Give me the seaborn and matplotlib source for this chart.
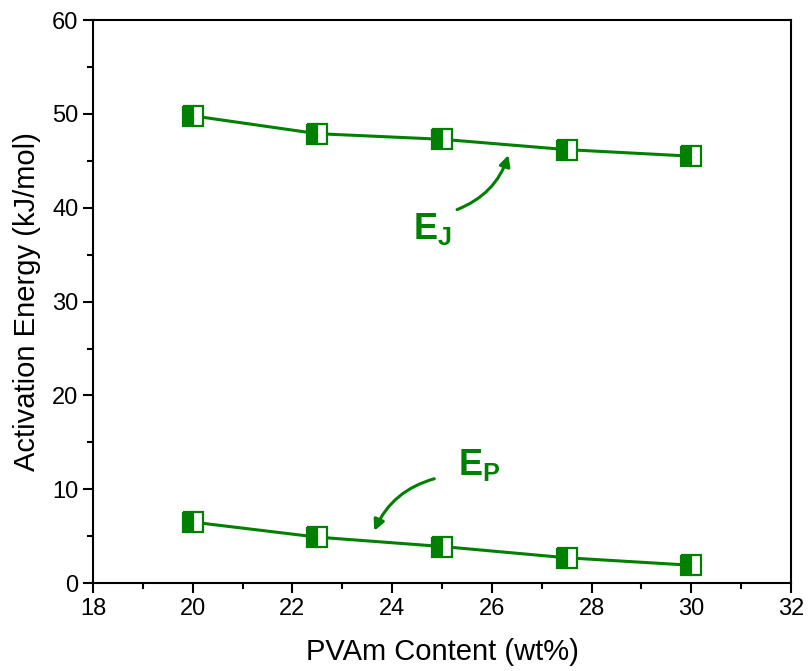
import matplotlib
matplotlib.use('Agg')
import matplotlib.pyplot as plt
from matplotlib.ticker import MultipleLocator
import seaborn as sns
import pandas as pd

# data
pvam = [20, 22.5, 25, 27.5, 30]
e_j = [49.8, 47.9, 47.3, 46.2, 45.5]
e_p = [6.5, 4.9, 3.9, 2.7, 1.9]

green = '#008000'

sns.set_style('ticks')
plt.rcParams['font.family'] = ['Liberation Sans', 'DejaVu Sans']
plt.rcParams['mathtext.fontset'] = 'custom'
plt.rcParams['mathtext.rm'] = 'Liberation Sans'
plt.rcParams['mathtext.bf'] = 'Liberation Sans:bold'
plt.rcParams['text.color'] = 'black'
plt.rcParams['axes.labelcolor'] = 'black'
plt.rcParams['xtick.color'] = 'black'
plt.rcParams['ytick.color'] = 'black'
plt.rcParams['axes.edgecolor'] = 'black'

df = pd.DataFrame({'x': pvam, 'EJ': e_j, 'EP': e_p})

fig = plt.figure(figsize=(8.08, 6.71), dpi=100)
ax = fig.add_axes([0.115, 0.131, 0.864, 0.839])

for col in ['EJ', 'EP']:
    sns.lineplot(data=df, x='x', y=col, ax=ax, color=green, lw=2.2,
                 marker='s', markersize=14, fillstyle='left',
                 markerfacecolor=green, markerfacecoloralt='white',
                 markeredgecolor=green, markeredgewidth=1.6)

ax.set_xlim(18, 32)
ax.set_ylim(0, 60)
ax.xaxis.set_major_locator(MultipleLocator(2))
ax.xaxis.set_minor_locator(MultipleLocator(1))
ax.yaxis.set_major_locator(MultipleLocator(10))
ax.yaxis.set_minor_locator(MultipleLocator(5))
ax.tick_params(which='major', length=7, width=1.5, labelsize=17, direction='out')
ax.tick_params(which='minor', length=4, width=1.5, direction='out')
for s in ax.spines.values():
    s.set_linewidth(1.5)
    s.set_visible(True)

ax.set_xlabel('PVAm Content (wt%)', fontsize=21, labelpad=13)
ax.set_ylabel('Activation Energy (kJ/mol)', fontsize=21, labelpad=8)

ax.annotate('', xy=(26.35, 45.9), xytext=(25.25, 39.7),
            arrowprops=dict(arrowstyle='-|>', color=green, lw=2.2,
                            mutation_scale=16,
                            connectionstyle='arc3,rad=0.25'))
ax.text(24.8, 37.7, r'$\mathbf{E_J}$', color=green, fontsize=26,
        ha='center', va='center')

ax.annotate('', xy=(23.62, 5.3), xytext=(24.9, 11.2),
            arrowprops=dict(arrowstyle='-|>', color=green, lw=2.2,
                            mutation_scale=16,
                            connectionstyle='arc3,rad=0.25'))
ax.text(25.75, 12.6, r'$\mathbf{E_P}$', color=green, fontsize=26,
        ha='center', va='center')

fig.savefig('out.png', dpi=100)
